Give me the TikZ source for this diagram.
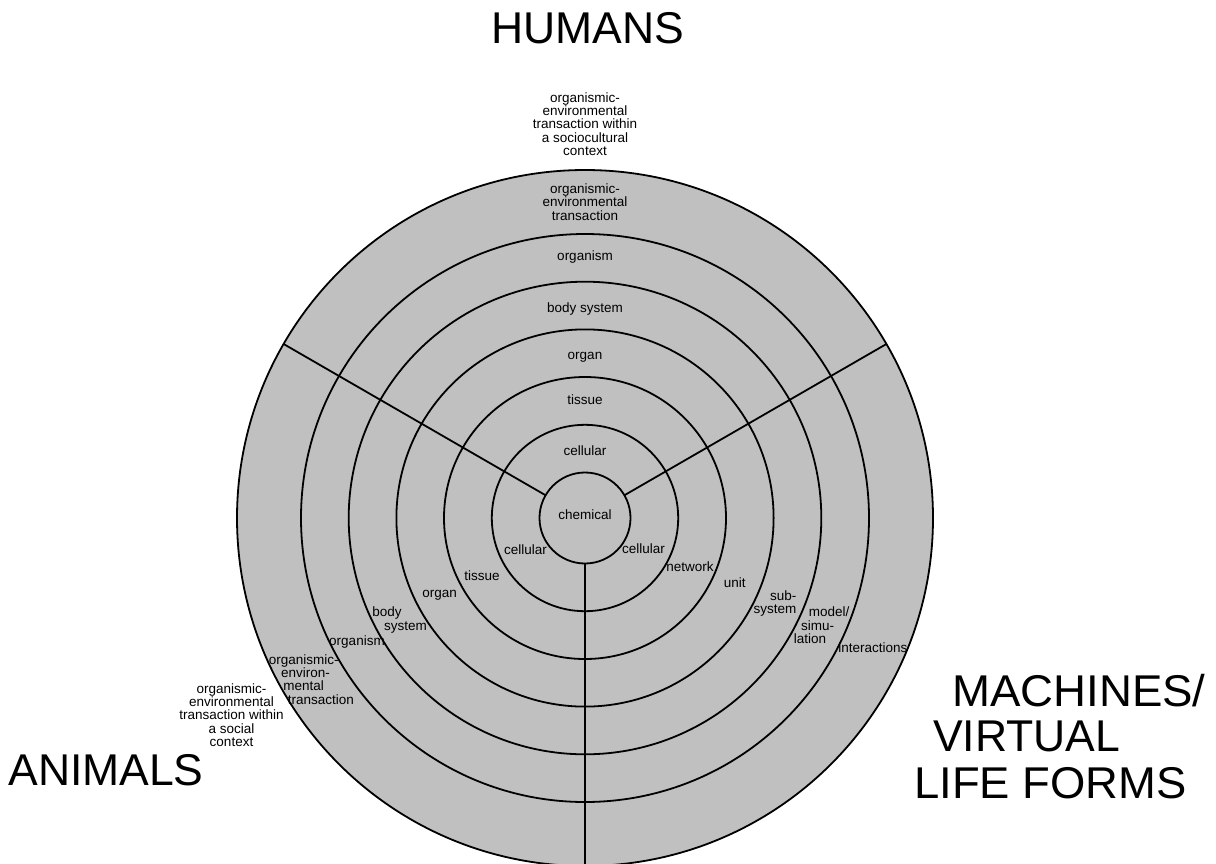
\documentclass[tikz,border=0pt]{standalone}
\usepackage{fontspec}
\setmainfont{Liberation Sans}
\definecolor{ringgray}{RGB}{192,192,192}
\tikzset{
  ring/.style={circle, draw=black, fill=ringgray, line width=1.8pt, inner sep=0pt, outer sep=0pt},
  spoke/.style={line width=1.8pt},
  lbl/.style={font=\fontsize{13.5}{13.4}\selectfont, inner sep=0pt, align=center},
  lbl1/.style={lbl, text height=9.8pt, text depth=2.9pt},
  big/.style={font=\fontsize{44.5}{46}\selectfont, inner sep=0pt},
}
\begin{document}
\begin{tikzpicture}[x=1pt,y=-1pt]
\useasboundingbox (0,0) rectangle (1216,863);
\clip (0,0) rectangle (1216,863);
% rings
\node[ring, minimum size=696pt] (outer) at (585,518) {};
\node[ring, minimum size=568pt] (r6) at (585,518) {};
\node[ring, minimum size=472.6pt] (r5) at (585,518) {};
\node[ring, minimum size=377.2pt] (r4) at (585,518) {};
\node[ring, minimum size=282pt] (r3) at (585,518) {};
\node[ring, minimum size=186.4pt] (r2) at (585,518) {};
\node[ring, minimum size=91pt] (chem) at (585,518) {};
% spokes
\draw[spoke] (chem.30) -- (outer.30);
\draw[spoke] (chem.150) -- (outer.150);
\draw[spoke] (chem.270) -- (outer.270);
% centre
\node[lbl1] (tchem) at (585,516) {chemical};
% humans sector
\node[lbl] (hctx) at (585,124) {organismic-\\environmental\\transaction within\\a sociocultural\\context};
\node[lbl] (hoet) at (585,202) {organismic-\\environmental\\transaction};
\node[lbl1] (horg) at (585,256.7) {organism};
\node[lbl1] (hbody) at (585,309) {body system};
\node[lbl1] (horgan) at (585,356) {organ};
\node[lbl1] (htis) at (585,400.7) {tissue};
\node[lbl1] (hcell) at (585,451.7) {cellular};
% animals sector
\node[lbl1] (acell) at (525.5,551) {cellular};
\node[lbl1] (atis) at (482,577.3) {tissue};
\node[lbl1] (aorgan) at (439.7,594) {organ};
\node[lbl, align=left] (abody) at (399.7,620) {body\\\hspace*{11.7pt}system};
\node[lbl1] (aorg) at (357,642) {organism};
\node[lbl, align=left] (aoet) at (311.3,679.3) {organismic-\\\hspace*{12.3pt}environ-\\\hspace*{14.6pt}mental\\\hspace*{19pt}transaction};
\node[lbl] (actx) at (231.5,715) {organismic-\\environmental\\transaction within\\a social\\context};
% machines sector
\node[lbl1] (mcell) at (643.5,550) {cellular};
\node[lbl1] (mnet) at (690,568.3) {network};
\node[lbl1] (munit) at (734.7,584.3) {unit};
\node[lbl, align=right] (msub) at (775,603.3) {sub-\\system};
\node[lbl, align=left] (mmod) at (821.7,625.3) {\hspace*{15pt}model/\\\hspace*{7.3pt}simu-\\lation};
\node[lbl1] (mint) at (872.8,649.3) {interactions};
% big labels
\node[big, anchor=base] (humans) at (588,43.3) {HUMANS};
\node[big, anchor=base] (animals) at (106,785) {ANIMALS};
\node[big, anchor=base west, xscale=1.025] (mach1) at (952,706.7) {MACHINES/};
\node[big, anchor=base west] (mach2) at (933,751.7) {VIRTUAL};
\node[big, anchor=base west, xscale=1.02] (mach3) at (914,798.3) {LIFE FORMS};
\end{tikzpicture}
\end{document}
